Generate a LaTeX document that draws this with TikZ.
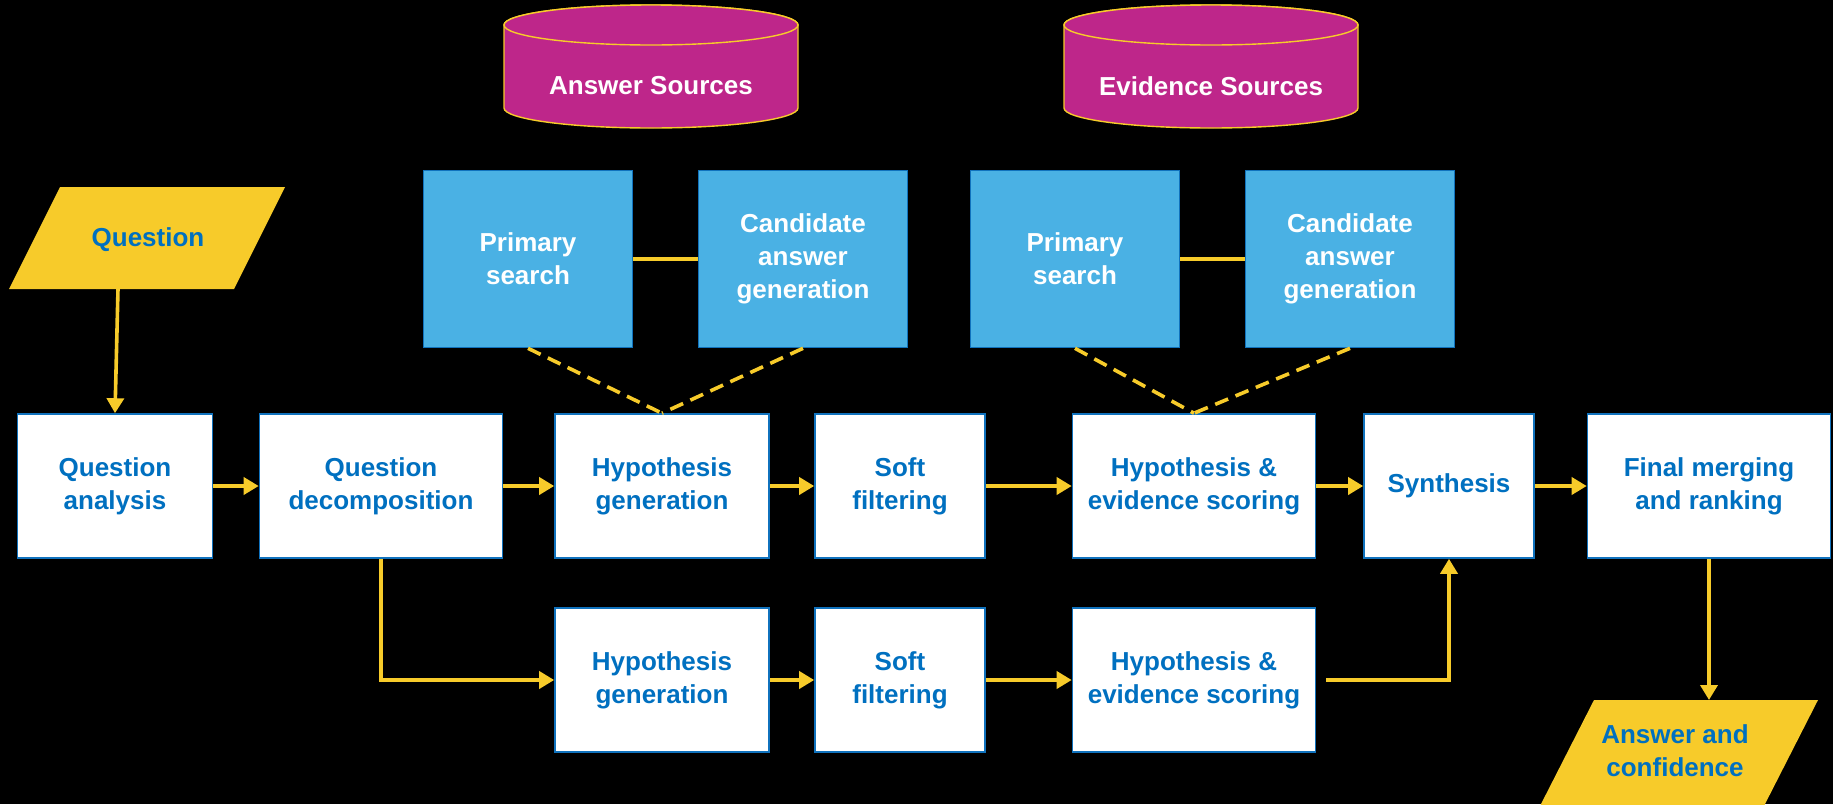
\documentclass[tikz,border=0pt]{standalone}
\usepackage{fontspec}
\setmainfont{Liberation Sans}
\usetikzlibrary{arrows.meta}

\definecolor{ioyellow}{RGB}{247,203,42}
\definecolor{txtblue}{RGB}{0,112,192}
\definecolor{boxblue}{RGB}{16,114,189}
\definecolor{searchblue}{RGB}{74,177,228}
\definecolor{srcmagenta}{RGB}{190,38,138}

\tikzset{
  lbl/.style={font=\bfseries\fontsize{13}{16.5}\selectfont, align=center},
  stage/.style={lbl, draw=boxblue, line width=0.8pt, fill=white, text=txtblue, minimum height=72pt, inner sep=0pt},
  search/.style={lbl, draw=boxblue, line width=0.8pt, fill=searchblue, text=white, minimum width=104.5pt, minimum height=88.5pt, inner sep=0pt},
  srcbody/.style={draw=ioyellow, line width=0.7pt, fill=srcmagenta},
  srctext/.style={lbl, text=white},
  iotext/.style={lbl, text=txtblue},
  flow/.style={ioyellow, line width=1.8pt, -{Triangle[length=7.5pt,width=8.5pt]}},
  link/.style={ioyellow, line width=1.8pt},
  dashlink/.style={link, dash pattern=on 7pt off 4pt}
}

\begin{document}
\begin{tikzpicture}[x=0.5pt,y=0.5pt,yscale=-1]
\useasboundingbox[fill=black] (0,0) rectangle (1833,804);

% sources (cylinders)
\draw[srcbody] (504,25) -- (504,108) arc[start angle=180, end angle=0, x radius=147, y radius=20] -- (798,25) arc[start angle=0, end angle=-180, x radius=147, y radius=20] -- cycle;
\draw[srcbody] (651,25) ellipse [x radius=147, y radius=20];
\node[srctext] (asrc) at (651,86) {Answer Sources};
\draw[srcbody] (1064,25) -- (1064,108) arc[start angle=180, end angle=0, x radius=147, y radius=20] -- (1358,25) arc[start angle=0, end angle=-180, x radius=147, y radius=20] -- cycle;
\draw[srcbody] (1211,25) ellipse [x radius=147, y radius=20];
\node[srctext] (esrc) at (1211,86) {Evidence Sources};

% search boxes
\node[search] (ps1) at (528,259) {Primary\\search};
\node[search] (cand1) at (803,259) {Candidate\\answer\\generation};
\node[search] (ps2) at (1075,259) {Primary\\search};
\node[search] (cand2) at (1350,259) {Candidate\\answer\\generation};

% input / output (parallelograms)
\fill[ioyellow] (60,187) -- (285,187) -- (234,289) -- (9,289) -- cycle;
\node[iotext] (q) at (148,240) {Question};
\coordinate (qbot) at (118,289);
\fill[ioyellow] (1594,700) -- (1818,700) -- (1764,806) -- (1540,806) -- cycle;
\node[iotext] (ans) at (1675,751) {Answer and\\confidence};
\coordinate (anstop) at (1709,700);

% main row
\node[stage, minimum width=97.5pt] (qa) at (115,486) {Question\\analysis};
\node[stage, minimum width=121.5pt] (qd) at (381,486) {Question\\decomposition};
\node[stage, minimum width=107pt] (hg1) at (662,486) {Hypothesis\\generation};
\node[stage, minimum width=85pt] (sf1) at (900,486) {Soft\\filtering};
\node[stage, minimum width=121.5pt] (hes1) at (1194,486) {Hypothesis \&\\evidence scoring};
\node[stage, minimum width=85pt] (synth) at (1449,486) {Synthesis};
\node[stage, minimum width=121.5pt] (final) at (1709,486) {Final merging\\and ranking};

% second row
\node[stage, minimum width=107pt] (hg2) at (662,680) {Hypothesis\\generation};
\node[stage, minimum width=85pt] (sf2) at (900,680) {Soft\\filtering};
\node[stage, minimum width=121.5pt] (hes2) at (1194,680) {Hypothesis \&\\evidence scoring};

% search links
\draw[link] (ps1) -- (cand1);
\draw[link] (ps2) -- (cand2);
\draw[dashlink] (ps1.south) -- (hg1.north);
\draw[dashlink] (cand1.south) -- (hg1.north);
\draw[dashlink] (ps2.south) -- (hes1.north);
\draw[dashlink] (cand2.south) -- (hes1.north);

% flow
\draw[flow] (qbot) -- (qa.north);
\draw[flow] (qa) -- (qd);
\draw[flow] (qd) -- (hg1);
\draw[flow] (hg1) -- (sf1);
\draw[flow] (sf1) -- (hes1);
\draw[flow] (hes1) -- (synth);
\draw[flow] (synth) -- (final);
\draw[flow] (qd.south) |- (hg2.west);
\draw[flow] (hg2) -- (sf2);
\draw[flow] (sf2) -- (hes2);
\draw[flow] ([xshift=5pt]hes2.east) -| (synth.south);
\draw[flow] (final.south) -- (anstop);

\end{tikzpicture}
\end{document}
